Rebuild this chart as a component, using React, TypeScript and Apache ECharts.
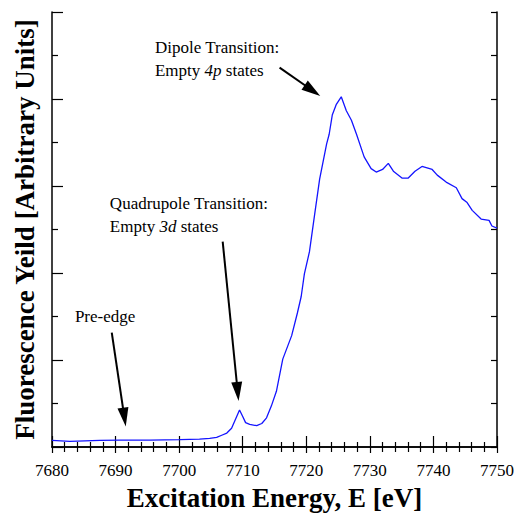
import React, { useEffect, useRef } from "react";
import * as echarts from "echarts";

const FONT = "Liberation Serif";

const energy = [
  7680.0, 7682.8, 7685.2, 7687.5, 7690.7, 7695.4, 7700.1, 7703.2, 7704.8, 7705.9,
  7706.7, 7707.5, 7708.25, 7708.9, 7709.5, 7710.0, 7710.45, 7711.1, 7712.2, 7713.0,
  7713.75, 7714.5, 7715.3, 7716.3, 7717.7, 7718.6, 7719.2, 7719.7, 7720.5, 7721.3,
  7722.1, 7723.2, 7723.6, 7724.1, 7724.7, 7725.5, 7726.3, 7727.1, 7727.9, 7729.1,
  7730.2, 7731.0, 7732.0, 7732.9, 7733.7, 7735.1, 7736.0, 7737.1, 7738.2, 7739.8,
  7740.6, 7742.0, 7743.6, 7744.5, 7745.3, 7746.1, 7747.5, 7748.75, 7749.2, 7750.0,
];

const intensity = [
  0.15, 0.13, 0.14, 0.15, 0.16, 0.16, 0.17, 0.18, 0.2, 0.22,
  0.27, 0.32, 0.43, 0.65, 0.85, 0.7, 0.56, 0.52, 0.49, 0.54,
  0.67, 0.94, 1.28, 2.02, 2.56, 3.08, 3.46, 3.98, 4.49, 5.33,
  6.16, 6.97, 7.19, 7.64, 7.87, 8.05, 7.73, 7.51, 7.19, 6.67,
  6.4, 6.32, 6.38, 6.52, 6.34, 6.18, 6.18, 6.34, 6.45, 6.38,
  6.25, 6.09, 5.96, 5.71, 5.62, 5.44, 5.24, 5.21, 5.08, 5.03,
];

// Annotation anchors in data coordinates: text lines (left x, y center), arrow tail and tip
const annotationLines = [
  { text: "Dipole Transition:", at: [7696.2, 9.19] },
  { text: "Empty {i|4p} states", at: [7696.2, 8.65] },
  { text: "Quadrupole Transition:", at: [7689.1, 5.6] },
  { text: "Empty {i|3d} states", at: [7689.1, 5.06] },
  { text: "Pre-edge", at: [7683.6, 3.01] },
];
const arrows = [
  { tail: [7715.8, 8.72], tip: [7722.2, 8.07] },
  { tail: [7706.85, 4.72], tip: [7709.35, 1.06] },
  { tail: [7689.4, 2.63], tip: [7691.6, 0.47] },
];

export default function App() {
  const ref = useRef<HTMLDivElement>(null);
  useEffect(() => {
    if (!ref.current) return;
    const chart = echarts.init(ref.current, undefined, { renderer: "svg" });
    const axisLine = { show: true, lineStyle: { color: "#000", width: 1.5 } };
    const xCommon = {
      type: "value",
      min: 7680,
      max: 7750,
      interval: 10,
      axisLine,
      splitLine: { show: false },
      minorTick: { show: true, splitNumber: 5, length: 5, lineStyle: { color: "#000", width: 1.2 } },
    };
    const yCommon = {
      type: "value",
      min: 0,
      max: 10,
      interval: 2,
      axisLine,
      splitLine: { show: false },
      minorTick: { show: true, splitNumber: 2, length: 6, lineStyle: { color: "#000", width: 1.2 } },
      axisLabel: { show: false },
    };
    chart.setOption({
      animation: false,
      backgroundColor: "#fff",
      grid: { left: 52, right: 19, top: 12, bottom: 59 },
      xAxis: [
        {
          ...xCommon,
          position: "bottom",
          axisTick: { show: true, inside: true, length: 11, lineStyle: { color: "#000", width: 1.2 } },
          axisLabel: {
            color: "#000",
            fontFamily: FONT,
            fontSize: 17,
            margin: 15,
            showMinLabel: true,
            showMaxLabel: true,
            formatter: (v: number) => String(v),
          },
          name: "Excitation Energy, E [eV]",
          nameLocation: "middle",
          nameGap: 37,
          nameTextStyle: { fontFamily: FONT, fontSize: 27, fontWeight: "bold", color: "#000" },
        },
        {
          ...xCommon,
          position: "top",
          axisTick: { show: true, inside: true, length: 6, lineStyle: { color: "#000", width: 1.2 } },
          axisLabel: { show: false },
        },
      ],
      yAxis: [
        {
          ...yCommon,
          position: "left",
          axisTick: { show: true, inside: true, length: 11, lineStyle: { color: "#000", width: 1.2 } },
          name: "Fluorescence Yeild [Arbitrary Units]",
          nameLocation: "middle",
          nameRotate: 90,
          nameGap: 14,
          nameTextStyle: { fontFamily: FONT, fontSize: 27, fontWeight: "bold", color: "#000" },
        },
        {
          ...yCommon,
          position: "right",
          axisTick: { show: true, inside: true, length: 6, lineStyle: { color: "#000", width: 1.2 } },
        },
      ],
      series: [
        {
          type: "line",
          xAxisIndex: 0,
          yAxisIndex: 0,
          data: energy.map((e, i) => [e, intensity[i]]),
          showSymbol: false,
          smooth: false,
          lineStyle: { color: "#1414ff", width: 1.3 },
          z: 1,
        },
      ],
    });

    const px = (p: number[]) => chart.convertToPixel({ xAxisIndex: 0, yAxisIndex: 0 }, p) as number[];
    const graphic: any[] = [];
    annotationLines.forEach((a) => {
      const [x, y] = px(a.at);
      graphic.push({
        type: "text",
        x,
        y,
        style: {
          text: a.text,
          fontFamily: FONT,
          fontSize: 17,
          fill: "#000",
          verticalAlign: "middle",
          align: "left",
          rich: { i: { fontStyle: "italic", fontFamily: FONT, fontSize: 17, fill: "#000" } },
        },
      });
    });
    arrows.forEach((a) => {
      const [tx, ty] = px(a.tail);
      const [hx, hy] = px(a.tip);
      const len = Math.hypot(hx - tx, hy - ty);
      const dx = (hx - tx) / len;
      const dy = (hy - ty) / len;
      const L = 19;
      const W = 5.5;
      const bx = hx - dx * L;
      const by = hy - dy * L;
      graphic.push({
        type: "line",
        shape: { x1: tx, y1: ty, x2: bx + dx * 2, y2: by + dy * 2 },
        style: { stroke: "#000", lineWidth: 2 },
      });
      graphic.push({
        type: "polygon",
        shape: {
          points: [
            [hx, hy],
            [bx - dy * W, by + dx * W],
            [bx + dy * W, by - dx * W],
          ],
        },
        style: { fill: "#000" },
      });
    });
    chart.setOption({ graphic });

    return () => chart.dispose();
  }, []);
  return <div ref={ref} style={{ position: "absolute", left: 0, top: 0, width: 517, height: 516 }} />;
}
